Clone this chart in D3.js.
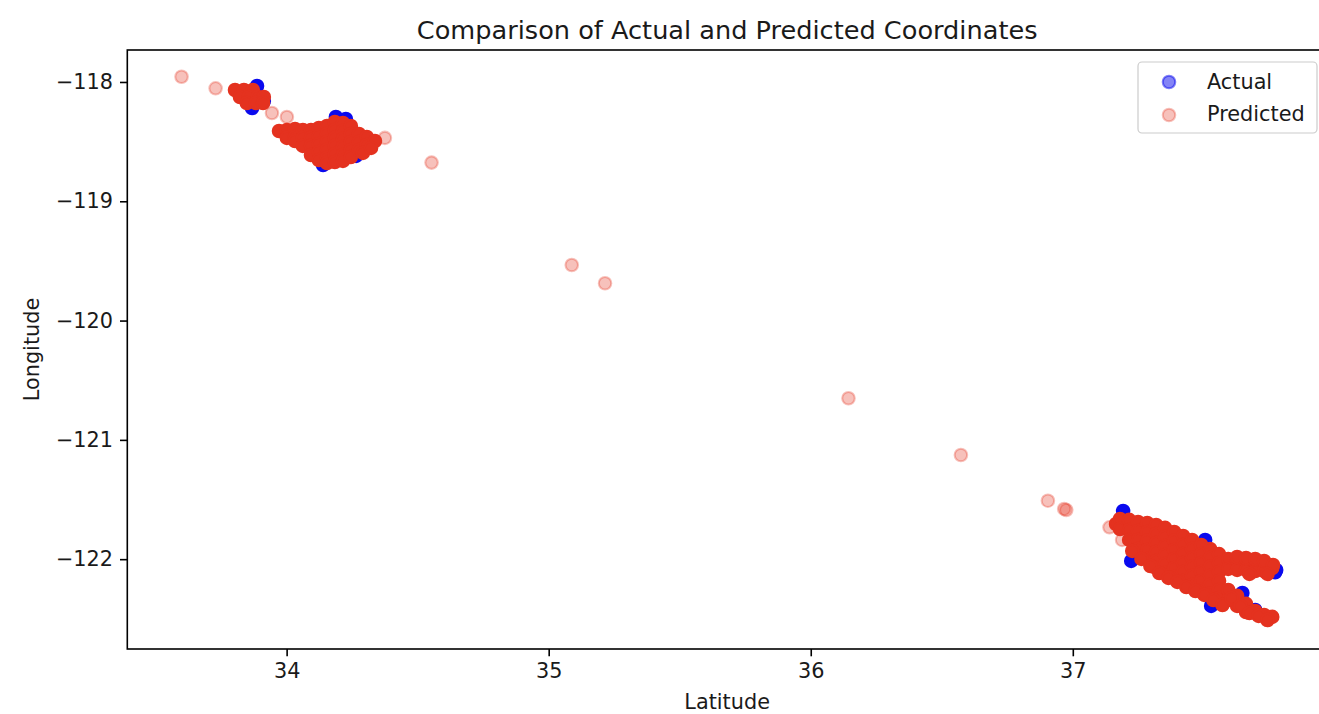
<!DOCTYPE html>
<html>
<head>
<meta charset="utf-8">
<script src="https://cdn.jsdelivr.net/npm/d3@7"></script>
<style>
  body { margin: 0; background: #fff; }
  svg { display: block; font-family: 'DejaVu Sans', sans-serif; }
</style>
</head>
<body>
<svg id="chart"></svg>
<script>
// axis setup
const xTicks = [34, 35, 36, 37];
const yTicks = [-118, -119, -120, -121, -122];
const xDomain = [33.392, 37.97];
const yDomain = [-122.753, -117.732];
const legendItems = ['Actual', 'Predicted'];

// [latitude, longitude]
const actualPoints = [
  [33.822, -118.109], [33.879, -118.126], [33.913, -118.159], [33.887, -118.034], [33.868, -118.218],
  [34.013, -118.427], [34.089, -118.486], [34.165, -118.486], [34.222, -118.486], [34.203, -118.612],
  [34.127, -118.570], [34.299, -118.528], [34.188, -118.293], [34.226, -118.310], [34.265, -118.620],
  [34.139, -118.696],
  [37.192, -121.596], [37.223, -122.015], [37.505, -121.839], [37.776, -122.091], [37.772, -122.110],
  [37.647, -122.283], [37.528, -122.392], [37.219, -121.713], [37.295, -121.881], [37.371, -121.965],
  [37.448, -122.049], [37.524, -122.132], [37.600, -122.049], [37.696, -122.065], [37.600, -122.325],
  [37.696, -122.426], [37.410, -122.174]
];

// heavily overplotted predictions (the solid red clusters)
const predictedDense = [
  [33.803, -118.067], [33.837, -118.067], [33.871, -118.067],
  [33.822, -118.126], [33.856, -118.126], [33.890, -118.126], [33.913, -118.126],
  [33.848, -118.176], [33.883, -118.176], [33.910, -118.176],
  [33.971, -118.411],
  [34.001, -118.402], [34.001, -118.469],
  [34.032, -118.394], [34.032, -118.461], [34.032, -118.495],
  [34.062, -118.402], [34.062, -118.469], [34.062, -118.536],
  [34.093, -118.402], [34.093, -118.469], [34.093, -118.536], [34.093, -118.612],
  [34.123, -118.386], [34.123, -118.453], [34.123, -118.520], [34.123, -118.587], [34.123, -118.654],
  [34.154, -118.369], [34.154, -118.436], [34.154, -118.503], [34.154, -118.570], [34.154, -118.637], [34.154, -118.679],
  [34.184, -118.335], [34.184, -118.402], [34.184, -118.469], [34.184, -118.536], [34.184, -118.604], [34.184, -118.671],
  [34.215, -118.344], [34.215, -118.411], [34.215, -118.478], [34.215, -118.545], [34.215, -118.612], [34.215, -118.662],
  [34.245, -118.369], [34.245, -118.436], [34.245, -118.503], [34.245, -118.570], [34.245, -118.629],
  [34.276, -118.436], [34.276, -118.503], [34.276, -118.570],
  [34.306, -118.461], [34.306, -118.528],
  [34.337, -118.495], [34.291, -118.595], [34.322, -118.553],
  [37.165, -121.705],
  [37.180, -121.663], [37.180, -121.747],
  [37.215, -121.671], [37.215, -121.755], [37.215, -121.839],
  [37.249, -121.688], [37.249, -121.764], [37.249, -121.839], [37.249, -121.915],
  [37.284, -121.697], [37.284, -121.772], [37.284, -121.847], [37.284, -121.923], [37.284, -121.998],
  [37.318, -121.713], [37.318, -121.789], [37.318, -121.864], [37.318, -121.940], [37.318, -122.015], [37.318, -122.074],
  [37.352, -121.738], [37.352, -121.814], [37.352, -121.890], [37.352, -121.965], [37.352, -122.040], [37.352, -122.116],
  [37.387, -121.772], [37.387, -121.847], [37.387, -121.923], [37.387, -121.998], [37.387, -122.074], [37.387, -122.149],
  [37.421, -121.806], [37.421, -121.881], [37.421, -121.957], [37.421, -122.032], [37.421, -122.107], [37.421, -122.183],
  [37.455, -121.839], [37.455, -121.915], [37.455, -121.990], [37.455, -122.065], [37.455, -122.141], [37.455, -122.216],
  [37.490, -121.881], [37.490, -121.957], [37.490, -122.032], [37.490, -122.107], [37.490, -122.183], [37.490, -122.258],
  [37.524, -121.915], [37.524, -121.990], [37.524, -122.065], [37.524, -122.141], [37.524, -122.216], [37.524, -122.291],
  [37.558, -121.957], [37.558, -122.032], [37.558, -122.107], [37.558, -122.183], [37.558, -122.258], [37.558, -122.325],
  [37.593, -121.998], [37.593, -122.082], [37.593, -122.258], [37.593, -122.342],
  [37.627, -122.007], [37.627, -122.090], [37.627, -122.308], [37.627, -122.392],
  [37.661, -122.015], [37.661, -122.090], [37.661, -122.375], [37.661, -122.443],
  [37.696, -122.023], [37.696, -122.099], [37.696, -122.434],
  [37.730, -122.040], [37.730, -122.099], [37.730, -122.468],
  [37.761, -122.074], [37.761, -122.484],
  // fuller lower flank and prongs
  [37.227, -121.931], [37.262, -121.998], [37.296, -122.057], [37.330, -122.116], [37.365, -122.157],
  [37.399, -122.191], [37.433, -122.233], [37.468, -122.267], [37.502, -122.300], [37.536, -122.342],
  [37.571, -122.384],
  [37.627, -121.982], [37.661, -121.990], [37.696, -121.998], [37.730, -122.015], [37.764, -122.049],
  [37.674, -122.124], [37.743, -122.124],
  [37.605, -122.325], [37.640, -122.392], [37.674, -122.451], [37.709, -122.476], [37.743, -122.510]
];

// isolated predictions
const predictedSparse = [
  [33.599, -117.956], [33.729, -118.053], [33.944, -118.260], [34.001, -118.293],
  [34.375, -118.469], [34.553, -118.676], [35.088, -119.534], [35.215, -119.687],
  [36.144, -120.651], [36.573, -121.127], [36.905, -121.510], [36.967, -121.579],
  [36.975, -121.588], [37.140, -121.733], [37.188, -121.839], [37.742, -122.510]
];

const width = 1319;
const height = 714;
const margin = { top: 50, left: 127.3 };
const plotW = 1199.7;
const plotH = 599;

const blue = '#0a0aee';
const red = '#e4321f';
const markerR = 6.25;
const markerStroke = 2.1;
const fontSize = 20.8;

const svg = d3.select('#chart')
  .attr('width', width)
  .attr('height', height);

const x = d3.scaleLinear().domain(xDomain).range([margin.left, margin.left + plotW]);
const y = d3.scaleLinear().domain(yDomain).range([margin.top + plotH, margin.top]);

const drawPoints = (data, color, opacity) => {
  svg.append('g')
    .selectAll('circle')
    .data(data)
    .enter()
    .append('circle')
    .attr('cx', d => x(d[0]))
    .attr('cy', d => y(d[1]))
    .attr('r', markerR)
    .attr('fill', color)
    .attr('fill-opacity', opacity)
    .attr('stroke', color)
    .attr('stroke-opacity', opacity)
    .attr('stroke-width', markerStroke);
};

drawPoints(actualPoints, blue, 1);
drawPoints(predictedSparse, red, 0.3);
drawPoints(predictedDense, red, 1);

// axes
const styleAxis = g => {
  g.select('.domain').remove();
  g.selectAll('.tick line').attr('stroke', '#000').attr('stroke-width', 1.6);
  g.selectAll('.tick text')
    .attr('fill', '#1a1a1a')
    .style('font-size', fontSize + 'px')
    .style('font-family', "'DejaVu Sans', sans-serif");
};

svg.append('g')
  .attr('transform', `translate(0,${margin.top + plotH})`)
  .call(d3.axisBottom(x).tickValues(xTicks).tickSize(7.3).tickPadding(7).tickFormat(d3.format('d')))
  .call(styleAxis);

svg.append('g')
  .attr('transform', `translate(${margin.left},0)`)
  .call(d3.axisLeft(y).tickValues(yTicks).tickSize(7.3).tickPadding(7).tickFormat(d3.format('d')))
  .call(styleAxis);

// spines (right one falls outside the picture)
svg.append('rect')
  .attr('x', margin.left)
  .attr('y', margin.top)
  .attr('width', plotW)
  .attr('height', plotH)
  .attr('fill', 'none')
  .attr('stroke', '#000')
  .attr('stroke-width', 1.6);

// labels
svg.append('text')
  .attr('x', margin.left + plotW / 2)
  .attr('y', 39)
  .attr('text-anchor', 'middle')
  .attr('fill', '#1a1a1a')
  .style('font-size', '25.6px')
  .text('Comparison of Actual and Predicted Coordinates');

svg.append('text')
  .attr('x', margin.left + plotW / 2)
  .attr('y', 709)
  .attr('text-anchor', 'middle')
  .attr('fill', '#1a1a1a')
  .style('font-size', fontSize + 'px')
  .text('Latitude');

svg.append('text')
  .attr('transform', `translate(39,${margin.top + plotH / 2}) rotate(-90)`)
  .attr('text-anchor', 'middle')
  .attr('fill', '#1a1a1a')
  .style('font-size', fontSize + 'px')
  .text('Longitude');

// legend
const legend = svg.append('g');
legend.append('rect')
  .attr('x', 1138)
  .attr('y', 62)
  .attr('width', 179)
  .attr('height', 71)
  .attr('rx', 4)
  .attr('fill', '#fff')
  .attr('fill-opacity', 0.8)
  .attr('stroke', '#cccccc')
  .attr('stroke-width', 1.2);

const legendColor = { Actual: [blue, 0.5], Predicted: [red, 0.3] };

legend.selectAll('legendDot')
  .data(legendItems)
  .enter()
  .append('circle')
  .attr('cx', 1169)
  .attr('cy', (d, i) => 82 + i * 33)
  .attr('r', markerR)
  .attr('fill', d => legendColor[d][0])
  .attr('fill-opacity', d => legendColor[d][1])
  .attr('stroke', d => legendColor[d][0])
  .attr('stroke-opacity', d => legendColor[d][1])
  .attr('stroke-width', markerStroke);

legend.selectAll('legendLabel')
  .data(legendItems)
  .enter()
  .append('text')
  .attr('x', 1207)
  .attr('y', (d, i) => 88.5 + i * 32)
  .attr('fill', '#1a1a1a')
  .style('font-size', fontSize + 'px')
  .text(d => d);
</script>
</body>
</html>
